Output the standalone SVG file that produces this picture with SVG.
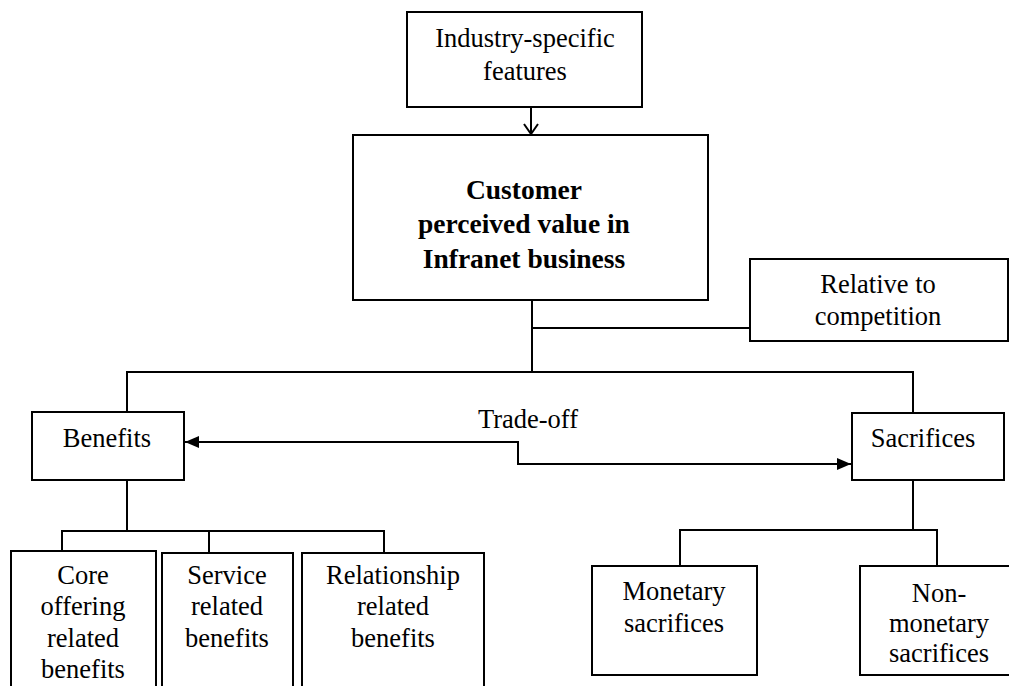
<svg xmlns="http://www.w3.org/2000/svg" width="1009" height="686" viewBox="0 0 1009 686">
<defs>
<marker id="tri" viewBox="0 0 14 12" refX="14" refY="6" markerWidth="14" markerHeight="12" markerUnits="userSpaceOnUse" orient="auto">
<path d="M0,0 L14,6 L0,12 Z" fill="#000"/>
</marker>
<marker id="vee" viewBox="0 0 16 12" refX="8" refY="11" markerWidth="16" markerHeight="12" markerUnits="userSpaceOnUse" orient="0">
<path d="M1,1 L8,11 L15,1" fill="none" stroke="#000" stroke-width="2"/>
</marker>
</defs>
<rect width="1009" height="686" fill="#fff"/>
<g font-family="Liberation Serif" font-size="26.5" text-anchor="middle" fill="#000">
<g id="connectors">
<g fill="none" stroke="#000" stroke-width="2">
<path d="M531,107 L531,134" marker-end="url(#vee)"/>
<path d="M532,300 L532,372"/>
<path d="M532,328 L750,328"/>
<path d="M127,412 L127,372 L913,372 L913,413"/>
<path d="M519,442 L185,442" marker-end="url(#tri)"/>
<path d="M518,441 L518,464 L851,464" marker-end="url(#tri)"/>
<path d="M127,480 L127,531"/>
<path d="M62,551 L62,531 L384,531 L384,553"/>
<path d="M209,531 L209,553"/>
<path d="M913,480 L913,530"/>
<path d="M680,566 L680,530 L937,530 L937,566"/>
</g>
<text x="528" y="428">Trade-off</text>
</g>
<g id="industry">
<rect x="407" y="12" width="235" height="95" fill="#fff" stroke="#000" stroke-width="2"/>
<text x="525" y="47">Industry-specific</text>
<text x="525" y="80">features</text>
</g>
<g id="cpv" font-weight="bold" font-size="27.5">
<rect x="353" y="135" width="355" height="165" fill="#fff" stroke="#000" stroke-width="2"/>
<text x="524" y="199">Customer</text>
<text x="524" y="233">perceived value in</text>
<text x="524" y="268">Infranet business</text>
</g>
<g id="relative">
<rect x="750" y="259" width="258" height="82" fill="#fff" stroke="#000" stroke-width="2"/>
<text x="878" y="293">Relative to</text>
<text x="878" y="325">competition</text>
</g>
<g id="benefits">
<rect x="32" y="412" width="152" height="68" fill="#fff" stroke="#000" stroke-width="2"/>
<text x="107" y="447">Benefits</text>
</g>
<g id="sacrifices">
<rect x="852" y="413" width="152" height="67" fill="#fff" stroke="#000" stroke-width="2"/>
<text x="923" y="447">Sacrifices</text>
</g>
<g id="core">
<rect x="11" y="551" width="145" height="150" fill="#fff" stroke="#000" stroke-width="2"/>
<text x="83" y="584">Core</text>
<text x="83" y="615">offering</text>
<text x="83" y="647">related</text>
<text x="83" y="678">benefits</text>
</g>
<g id="service">
<rect x="162" y="553" width="131" height="150" fill="#fff" stroke="#000" stroke-width="2"/>
<text x="227" y="584">Service</text>
<text x="227" y="615">related</text>
<text x="227" y="647">benefits</text>
</g>
<g id="relationship">
<rect x="302" y="553" width="182" height="150" fill="#fff" stroke="#000" stroke-width="2"/>
<text x="393" y="584">Relationship</text>
<text x="393" y="615">related</text>
<text x="393" y="647">benefits</text>
</g>
<g id="monetary">
<rect x="592" y="566" width="165" height="109" fill="#fff" stroke="#000" stroke-width="2"/>
<text x="674" y="600">Monetary</text>
<text x="674" y="632">sacrifices</text>
</g>
<g id="nonmonetary">
<rect x="860" y="566" width="160" height="109" fill="#fff" stroke="#000" stroke-width="2"/>
<text x="939" y="602">Non-</text>
<text x="939" y="632">monetary</text>
<text x="939" y="662">sacrifices</text>
</g>
</g>
</svg>
